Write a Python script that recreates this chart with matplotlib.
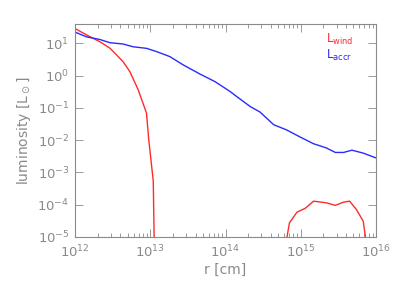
import numpy as np
import matplotlib
matplotlib.use("Agg")
import matplotlib.pyplot as plt
from matplotlib.ticker import LogLocator, FixedLocator, NullLocator

# log10(r [cm]) and log10(L [Lsun])
accr_logr = [12.0, 12.155, 12.33, 12.465, 12.64, 12.77, 12.95, 13.09, 13.26, 13.44,
             13.66, 13.86, 14.06, 14.15, 14.33, 14.46, 14.64, 14.81, 14.99, 15.17,
             15.34, 15.46, 15.57, 15.68, 15.83, 16.0]
accr_logL = [1.35, 1.20, 1.12, 1.02, 0.98, 0.895, 0.846, 0.74, 0.59, 0.33,
             0.05, -0.185, -0.49, -0.65, -0.96, -1.13, -1.52, -1.68, -1.90, -2.11,
             -2.24, -2.38, -2.38, -2.31, -2.40, -2.55]

wind_logr = [12.0, 12.155, 12.33, 12.465, 12.64, 12.73, 12.84, 12.95, 12.98, 13.04,
             13.055, 13.1,
             14.78, 14.85, 14.95, 15.06, 15.17, 15.34, 15.46, 15.57, 15.65, 15.74,
             15.83, 15.89]
wind_logL = [1.46, 1.26, 1.05, 0.85, 0.43, 0.12, -0.44, -1.16, -1.98, -3.27,
             -5.5, np.nan,
             -5.5, -4.56, -4.23, -4.11, -3.89, -3.94, -4.02, -3.92, -3.89, -4.15,
             -4.51, -5.5]

gray = '#8a8a8a'
red = '#ff2a2a'
blue = '#2a2aff'

fig = plt.figure(figsize=(3.99, 2.85), dpi=100)
ax = fig.add_axes([75/399, 1-237/285, (376-75)/399, (237-24)/285])

ax.plot(10**np.array(wind_logr), 10**np.array(wind_logL), color=red, lw=1.0)
ax.plot(10**np.array(accr_logr), 10**np.array(accr_logL), color=blue, lw=1.0)

ax.set_xscale('log')
ax.set_yscale('log')
ax.set_xlim(1e12, 1e16)
ax.set_ylim(1e-5, 10**1.6)

ax.xaxis.set_major_locator(LogLocator(base=10, numticks=10))
ax.xaxis.set_minor_locator(LogLocator(base=10, subs=np.arange(2, 10), numticks=20))
ax.yaxis.set_major_locator(FixedLocator([1e-5, 1e-4, 1e-3, 1e-2, 1e-1, 1, 10]))
ax.yaxis.set_minor_locator(NullLocator())

for s in ax.spines.values():
    s.set_color(gray)
    s.set_linewidth(0.8)
ax.tick_params(which='both', direction='in', top=True, right=True, colors=gray,
               labelcolor=gray, labelsize=9.5, width=0.6)
ax.tick_params(which='major', length=6)
ax.tick_params(which='minor', length=3)
ax.tick_params(axis='x', pad=5)
ax.tick_params(axis='y', pad=4)

ax.set_xlabel('r [cm]', color=gray, fontsize=10, labelpad=2)
ax.set_ylabel(r'luminosity [L$_\odot$]', color=gray, fontsize=10, labelpad=3)

ax.text(0.835, 0.965, r'L$_{\rm wind}$', color=red, fontsize=8.5, transform=ax.transAxes,
        va='top', ha='left')
ax.text(0.835, 0.89, r'L$_{\rm accr}$', color=blue, fontsize=8.5, transform=ax.transAxes,
        va='top', ha='left')

fig.savefig('out.png', dpi=100)
